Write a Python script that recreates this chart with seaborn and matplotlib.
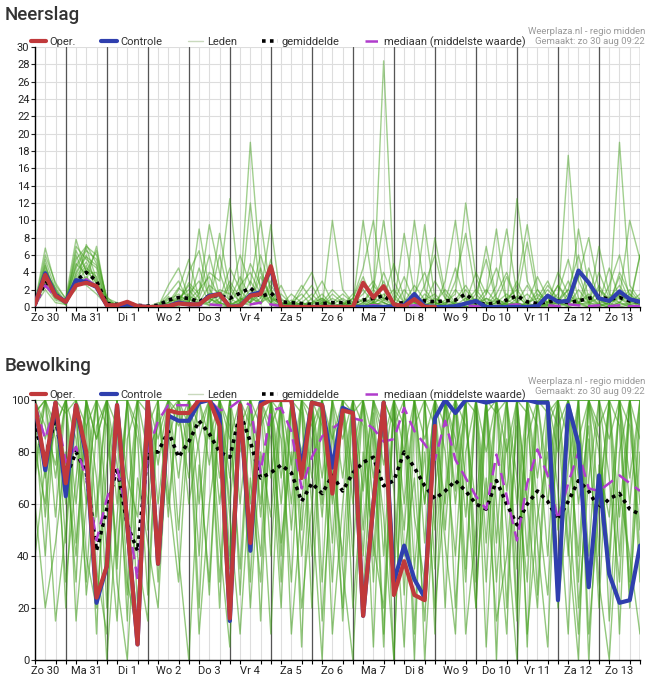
import numpy as np
import pandas as pd
import matplotlib
matplotlib.use("Agg")
import matplotlib.pyplot as plt
from matplotlib.lines import Line2D
import seaborn as sns

# tijdstappen: elke 6 uur vanaf zo 30 06:00 (uur 0) tot ma 14 00:00 (uur 354)
hours = np.arange(0, 355, 6)
day_labels = ["Zo 30", "Ma 31", "Di 1", "Wo 2", "Do 3", "Vr 4", "Za 5", "Zo 6",
              "Ma 7", "Di 8", "Wo 9", "Do 10", "Vr 11", "Za 12", "Zo 13"]

# ---------------- Neerslag (mm) ----------------
rain_oper = [0.3, 3.7, 1.3, 0.6, 2.5, 2.8, 2.4, 0.2, 0.2, 0.6,
             0.1, 0.0, 0.0, 0.1, 0.4, 0.3, 0.3, 1.2, 1.5, 0.0,
             0.1, 1.3, 1.5, 4.7, 0.0, 0.0, 0.0, 0.0, 0.0, 0.0,
             0.0, 0.0, 2.8, 1.1, 2.4, 0.3, 0.1, 0.9, 0.0, 0.0]
rain_ctrl = [0.3, 3.9, 1.4, 0.6, 3.1, 2.9, 2.3, 0.2, 0.1, 0.3,
             0.1, 0.0, 0.0, 0.1, 0.5, 0.3, 0.3, 1.3, 1.5, 0.0,
             0.1, 1.4, 1.7, 4.5, 0.0, 0.0, 0.0, 0.0, 0.0, 0.0,
             0.0, 0.0, 0.0, 0.0, 0.0, 0.1, 0.2, 1.5, 0.1, 0.0,
             0.0, 0.1, 0.4, 0.7, 0.0, 0.0, 0.0, 0.0, 0.0, 0.1,
             1.3, 0.6, 0.7, 4.2, 2.8, 1.0, 0.7, 1.8, 0.9, 0.6]
rain_mean = [0.3, 2.8, 1.4, 0.6, 3.0, 4.0, 3.0, 0.4, 0.3, 0.4,
             0.2, 0.1, 0.2, 0.8, 1.1, 1.0, 0.6, 1.3, 1.3, 1.0,
             1.6, 2.2, 1.2, 1.6, 0.6, 0.5, 0.4, 0.3, 0.4, 0.5,
             0.5, 0.6, 0.8, 1.0, 1.3, 0.4, 0.5, 0.9, 0.7, 0.6,
             0.7, 0.8, 1.5, 0.5, 0.3, 0.5, 0.8, 1.3, 0.6, 0.4,
             0.6, 0.7, 0.5, 0.7, 1.0, 1.2, 0.9, 1.1, 0.7, 0.6]
rain_median = [0.2, 2.5, 1.2, 0.5, 2.6, 3.2, 2.4, 0.2, 0.1, 0.1,
               0.0, 0.0, 0.0, 0.2, 0.6, 0.4, 0.2, 0.3, 0.2, 0.1,
               0.2, 0.3, 0.5, 0.3, 0.1, 0.0, 0.1, 0.0, 0.1, 0.1,
               0.0, 0.1, 0.1, 0.2, 0.1, 0.0, 0.1, 0.2, 0.1, 0.1,
               0.0, 0.1, 0.2, 0.1, 0.0, 0.1, 0.2, 0.3, 0.1, 0.1,
               0.2, 0.1, 0.3, 0.2, 0.1, 0.2, 0.1, 0.2, 0.1, 0.1]
rain_members = [
    [0.2, 4.5, 1.8, 0.5, 3.5, 5.2, 3.0, 0.3, 0.2, 0.1,
     0.0, 0.0, 0.0, 0.5, 1.2, 0.8, 2.0, 3.5, 1.0, 0.2,
     2.5, 4.0, 1.5, 9.5, 0.5, 0.2, 0.0, 0.3, 1.0, 0.2,
     0.0, 0.5, 1.5, 3.0, 0.8, 0.2, 0.0, 0.1, 2.5, 6.0,
     1.0, 0.3, 0.0, 0.0, 1.5, 4.5, 0.8, 0.2, 0.0, 0.5,
     2.0, 0.6, 0.1, 3.5, 8.0, 2.0, 0.5, 1.2, 0.3, 0.1],
    [0.5, 6.8, 2.5, 1.0, 7.8, 4.0, 6.5, 0.8, 0.0, 0.3,
     0.1, 0.0, 0.2, 1.5, 3.0, 0.5, 0.2, 1.0, 8.5, 2.0,
     0.5, 1.2, 0.3, 2.0, 0.0, 0.5, 2.5, 0.8, 0.0, 0.0,
     0.2, 1.0, 4.5, 10.0, 2.0, 0.5, 0.0, 0.0, 0.8, 1.5,
     0.2, 3.0, 8.5, 1.5, 0.2, 0.0, 0.5, 2.5, 9.5, 2.0,
     0.3, 0.0, 1.0, 4.0, 0.5, 0.1, 2.5, 6.0, 1.0, 0.2],
    [0.3, 3.0, 1.2, 0.8, 2.0, 7.2, 5.0, 1.0, 0.5, 0.0,
     0.0, 0.2, 0.0, 0.0, 0.8, 2.5, 1.0, 4.0, 3.0, 12.5,
     1.5, 19.0, 4.0, 1.0, 0.3, 0.0, 0.5, 1.5, 0.2, 0.0,
     0.5, 0.0, 0.3, 1.2, 28.4, 3.0, 0.5, 0.0, 1.5, 0.5,
     0.0, 0.8, 2.5, 0.5, 7.0, 1.0, 0.2, 0.0, 0.5, 3.5,
     1.0, 0.2, 17.5, 3.0, 0.5, 1.0, 0.2, 4.0, 1.5, 0.5],
    [0.1, 5.5, 2.0, 0.3, 4.0, 6.0, 2.5, 0.2, 0.0, 0.5,
     0.2, 0.0, 0.0, 2.5, 4.5, 1.0, 0.3, 0.5, 2.0, 1.5,
     6.0, 2.5, 10.0, 1.5, 0.0, 0.8, 0.2, 0.0, 0.5, 2.0,
     0.8, 0.0, 1.0, 0.5, 2.5, 0.2, 8.5, 1.5, 0.3, 0.0,
     0.5, 1.5, 12.0, 3.5, 0.5, 0.0, 1.0, 2.0, 0.3, 0.0,
     0.5, 2.5, 1.0, 0.2, 4.5, 1.0, 0.0, 19.0, 2.5, 0.8],
    [0.4, 2.5, 0.8, 0.4, 6.0, 3.0, 7.0, 0.5, 0.2, 0.0,
     0.0, 0.0, 0.5, 0.2, 0.0, 4.0, 6.5, 1.0, 0.2, 0.0,
     0.5, 3.0, 1.0, 4.0, 0.5, 0.0, 0.0, 1.0, 3.0, 0.5,
     0.0, 0.3, 10.0, 2.0, 0.5, 0.0, 0.2, 1.5, 4.0, 0.5,
     0.2, 0.0, 0.5, 1.0, 0.3, 2.5, 9.0, 1.5, 0.0, 0.3,
     1.5, 0.5, 2.0, 6.0, 1.0, 0.2, 0.5, 1.0, 10.0, 5.5],
    [0.2, 3.5, 1.5, 0.2, 2.5, 4.5, 3.5, 0.4, 0.1, 0.2,
     0.0, 0.0, 0.0, 0.8, 1.5, 0.5, 9.0, 2.0, 0.5, 0.0,
     1.0, 0.5, 2.0, 0.5, 0.2, 1.5, 0.5, 0.0, 0.0, 10.0,
     2.0, 0.5, 0.0, 0.5, 1.0, 5.0, 1.0, 0.0, 0.2, 8.0,
     1.5, 0.3, 0.0, 0.5, 2.0, 0.5, 0.0, 12.5, 3.0, 0.5,
     0.2, 0.0, 1.5, 0.5, 0.2, 7.0, 1.5, 0.5, 0.0, 0.2],
    [0.6, 4.0, 2.2, 0.6, 5.0, 3.8, 4.0, 0.6, 0.3, 0.0,
     0.1, 0.2, 0.0, 0.0, 0.5, 0.2, 1.5, 9.5, 4.0, 0.5,
     0.0, 12.0, 1.5, 0.5, 2.5, 0.0, 0.2, 0.5, 1.5, 0.2,
     0.0, 0.0, 0.5, 2.0, 10.0, 1.5, 0.0, 0.5, 0.3, 0.0,
     3.0, 10.0, 1.0, 0.2, 0.0, 0.5, 3.5, 0.5, 0.0, 0.5,
     2.5, 1.0, 0.3, 9.0, 2.5, 0.5, 4.5, 1.0, 0.2, 6.0],
    [0.3, 5.0, 1.0, 0.5, 7.0, 5.5, 4.5, 0.3, 0.0, 0.0,
     0.3, 0.0, 0.2, 0.5, 1.0, 2.0, 0.5, 0.2, 1.0, 4.5,
     2.0, 0.5, 4.5, 0.8, 0.0, 0.0, 2.0, 4.0, 0.5, 0.0,
     0.2, 1.5, 0.5, 0.0, 0.8, 2.0, 0.5, 10.0, 2.0, 0.5,
     0.0, 0.5, 0.2, 1.5, 5.5, 0.5, 0.0, 1.0, 7.5, 1.0,
     0.5, 4.0, 1.5, 0.3, 0.0, 2.5, 0.5, 1.5, 0.8, 0.0],
    [0.1, 2.0, 0.5, 0.3, 3.0, 2.5, 1.5, 0.2, 0.0, 0.0,
     0.0, 0.0, 0.0, 0.3, 0.8, 0.3, 0.2, 1.0, 0.5, 0.2,
     0.8, 1.5, 0.5, 1.2, 0.3, 0.0, 0.2, 0.0, 0.5, 0.3,
     0.0, 0.2, 0.8, 0.3, 0.5, 0.0, 0.3, 0.5, 0.0, 1.0,
     0.5, 0.0, 0.3, 0.8, 0.2, 0.0, 0.5, 1.2, 0.3, 0.0,
     0.3, 0.5, 0.0, 0.5, 1.5, 0.3, 0.0, 0.5, 0.2, 0.0],
    [0.5, 4.8, 1.5, 0.7, 4.5, 6.5, 5.5, 1.2, 0.0, 0.1,
     0.0, 0.0, 0.0, 1.0, 0.5, 1.5, 3.0, 0.5, 6.0, 1.0,
     0.3, 0.5, 1.5, 0.2, 0.0, 0.5, 1.5, 0.2, 0.0, 0.0,
     0.5, 0.0, 0.0, 1.0, 0.5, 0.0, 2.0, 0.5, 9.5, 1.0,
     0.3, 0.0, 0.5, 4.0, 1.5, 9.0, 0.5, 0.0, 0.2, 1.5,
     0.5, 0.0, 0.5, 1.0, 0.3, 0.0, 0.5, 3.5, 0.5, 6.0],
    [0.2, 3.2, 1.6, 0.4, 3.2, 4.8, 2.0, 0.5, 0.2, 0.0,
     0.2, 0.0, 0.0, 0.0, 2.0, 5.5, 1.0, 0.2, 0.5, 0.0,
     0.2, 1.0, 6.0, 2.0, 0.5, 0.2, 0.0, 0.5, 0.2, 1.0,
     0.3, 0.0, 0.2, 0.5, 0.0, 0.5, 0.2, 0.0, 0.5, 0.2,
     0.0, 0.2, 1.0, 0.5, 0.0, 0.5, 0.2, 0.5, 1.5, 0.3,
     0.0, 0.5, 3.0, 0.5, 0.0, 0.2, 0.5, 0.0, 0.3, 0.5],
    [0.4, 6.0, 2.8, 0.9, 5.5, 7.0, 6.0, 0.8, 0.3, 0.0,
     0.0, 0.1, 0.0, 0.2, 0.5, 1.0, 0.5, 2.5, 1.5, 0.2,
     0.5, 2.0, 0.5, 3.0, 1.0, 0.0, 0.5, 0.2, 0.0, 0.5,
     1.5, 0.5, 2.0, 0.5, 4.0, 1.0, 0.2, 0.0, 1.0, 0.5,
     0.2, 2.0, 0.5, 0.0, 1.0, 0.5, 1.5, 0.5, 0.2, 2.0,
     0.5, 1.5, 5.5, 1.0, 0.5, 2.0, 1.0, 0.5, 2.0, 0.5],
    [0.3, 3.8, 1.4, 0.6, 2.8, 3.5, 2.2, 0.4, 0.1, 0.0,
     0.0, 0.0, 0.1, 0.5, 2.2, 1.2, 0.8, 0.5, 1.8, 0.8,
     3.5, 1.0, 0.5, 2.5, 0.8, 0.2, 0.5, 0.0, 0.2, 1.5,
     0.5, 0.0, 0.5, 2.5, 1.0, 0.3, 0.0, 0.8, 0.5, 3.0,
     1.0, 0.2, 0.5, 2.0, 0.5, 0.0, 0.3, 0.5, 2.5, 0.5,
     0.2, 0.8, 2.0, 0.5, 1.2, 0.3, 0.0, 1.5, 0.5, 1.0],
    [0.2, 4.2, 2.0, 0.4, 6.5, 4.2, 2.8, 0.5, 0.2, 0.0,
     0.1, 0.0, 0.0, 0.2, 0.5, 2.8, 1.5, 6.0, 1.2, 0.3,
     0.8, 5.0, 2.5, 0.5, 1.5, 0.3, 0.0, 0.5, 1.0, 0.2,
     0.0, 0.5, 0.0, 0.3, 1.5, 0.5, 3.5, 0.5, 0.0, 0.2,
     0.8, 4.5, 0.5, 0.2, 0.0, 1.0, 0.3, 0.0, 0.5, 1.0,
     3.0, 0.5, 0.2, 2.0, 0.5, 0.3, 1.0, 2.5, 0.5, 0.3],
    [0.4, 2.8, 1.0, 0.5, 4.8, 6.8, 3.2, 0.3, 0.0, 0.2,
     0.0, 0.0, 0.2, 0.0, 1.0, 0.5, 4.5, 1.0, 0.3, 2.5,
     0.5, 0.2, 1.0, 5.5, 0.5, 0.0, 1.0, 2.5, 0.3, 0.0,
     0.2, 1.0, 3.5, 0.5, 0.2, 0.0, 0.5, 2.5, 0.8, 0.2,
     0.0, 0.5, 2.0, 0.5, 0.2, 1.5, 4.0, 0.5, 0.0, 0.2,
     0.5, 2.5, 0.5, 0.2, 3.0, 0.8, 0.2, 0.5, 1.5, 0.2],
    [0.1, 3.4, 1.2, 0.3, 3.8, 5.8, 4.8, 0.6, 0.3, 0.1,
     0.0, 0.1, 0.0, 1.2, 0.3, 0.8, 0.5, 1.5, 0.5, 3.0,
     1.0, 0.5, 3.5, 1.0, 0.3, 0.5, 0.2, 0.0, 0.8, 0.3,
     1.0, 0.2, 0.0, 0.5, 3.0, 0.5, 0.2, 0.0, 0.3, 0.5,
     2.0, 0.5, 0.0, 0.3, 1.0, 0.2, 0.5, 3.0, 0.5, 0.0,
     0.2, 0.5, 1.0, 0.3, 0.5, 4.0, 1.0, 0.2, 0.5, 1.5],
]

# ---------------- Bewolking (%) ----------------
cloud_oper = [98, 75, 99, 68, 98, 80, 24, 36, 98, 52,
              6, 100, 37, 96, 95, 95, 100, 100, 90, 16,
              98, 45, 98, 100, 100, 100, 70, 99, 98, 64,
              96, 95, 17, 60, 99, 25, 38, 25, 23, 90]
cloud_ctrl = [98, 73, 99, 63, 98, 78, 22, 36, 98, 52,
              6, 100, 37, 94, 92, 92, 99, 100, 94, 15,
              98, 42, 99, 100, 100, 100, 74, 99, 98, 74,
              97, 95, 17, 60, 99, 30, 44, 31, 24, 93,
              100, 95, 100, 100, 99, 100, 100, 100, 100, 99,
              99, 23, 98, 83, 28, 71, 33, 22, 23, 44]
cloud_mean = [89, 78, 93, 70, 80, 72, 42, 58, 74, 52,
              42, 80, 80, 88, 78, 84, 92, 87, 80, 78,
              95, 84, 70, 72, 75, 72, 61, 68, 64, 71,
              65, 72, 76, 78, 67, 69, 80, 74, 67, 62,
              65, 69, 65, 60, 58, 69, 60, 52, 60, 65,
              61, 54, 61, 69, 65, 58, 62, 64, 58, 56]
cloud_median = [98, 85, 98, 76, 82, 70, 46, 62, 74, 56,
                31, 80, 92, 98, 98, 98, 100, 100, 96, 97,
                100, 98, 72, 96, 97, 88, 66, 78, 86, 89,
                92, 93, 92, 89, 84, 85, 97, 88, 83, 77,
                92, 77, 70, 63, 58, 79, 63, 46, 68, 81,
                71, 54, 68, 80, 66, 65, 68, 71, 68, 65]
cloud_members = [
    [100, 85, 100, 60, 95, 40, 20, 75, 100, 30,
     10, 90, 100, 100, 95, 70, 100, 100, 45, 5,
     100, 60, 100, 100, 85, 30, 100, 95, 55, 100,
     15, 80, 100, 40, 100, 65, 5, 90, 100, 35,
     100, 100, 70, 20, 95, 100, 50, 0, 85, 100,
     100, 30, 75, 100, 10, 60, 100, 90, 25, 80],
    [95, 100, 70, 100, 45, 90, 100, 60, 15, 85,
     100, 50, 95, 60, 100, 100, 80, 25, 100, 90,
     35, 100, 75, 10, 100, 100, 40, 85, 100, 60,
     100, 20, 70, 100, 90, 0, 100, 55, 30, 100,
     80, 40, 100, 95, 5, 75, 100, 100, 60, 20,
     90, 100, 45, 0, 100, 85, 35, 100, 70, 100],
    [80, 60, 100, 95, 100, 100, 35, 10, 100, 70,
     55, 100, 85, 100, 100, 100, 90, 100, 100, 40,
     90, 100, 15, 100, 95, 60, 100, 20, 100, 85,
     100, 100, 50, 95, 10, 100, 80, 100, 0, 65,
     100, 85, 30, 100, 100, 60, 10, 100, 95, 45,
     5, 100, 100, 60, 90, 20, 100, 55, 100, 30],
    [100, 100, 85, 30, 70, 100, 55, 100, 90, 15,
     100, 100, 60, 95, 100, 80, 100, 100, 20, 100,
     100, 45, 100, 100, 60, 100, 80, 100, 30, 100,
     70, 100, 90, 5, 100, 40, 100, 100, 60, 100,
     20, 100, 90, 60, 100, 0, 100, 70, 30, 100,
     100, 65, 10, 100, 100, 80, 40, 100, 90, 50],
    [90, 40, 100, 100, 100, 75, 100, 90, 40, 100,
     85, 25, 100, 100, 90, 100, 100, 75, 100, 100,
     60, 100, 100, 85, 20, 100, 100, 70, 100, 45,
     100, 95, 100, 70, 100, 100, 25, 100, 85, 100,
     100, 60, 100, 100, 80, 100, 100, 35, 100, 100,
     70, 100, 100, 85, 100, 40, 100, 100, 60, 100],
    [70, 100, 55, 100, 85, 30, 90, 100, 100, 60,
     100, 100, 30, 85, 100, 100, 40, 100, 100, 70,
     100, 90, 100, 40, 100, 75, 100, 100, 90, 30,
     100, 60, 100, 100, 85, 100, 100, 10, 100, 90,
     60, 100, 100, 20, 100, 95, 100, 100, 5, 100,
     100, 90, 100, 20, 70, 100, 100, 10, 100, 85],
    [60, 20, 45, 80, 30, 100, 70, 0, 55, 100,
     40, 15, 100, 65, 30, 95, 10, 60, 90, 35,
     100, 20, 80, 55, 100, 10, 60, 100, 15, 75,
     40, 100, 25, 90, 55, 0, 100, 35, 80, 20,
     65, 100, 10, 50, 100, 30, 85, 15, 100, 60,
     25, 90, 40, 100, 0, 75, 55, 100, 20, 95],
    [100, 70, 90, 100, 15, 60, 100, 40, 100, 100,
     20, 100, 75, 100, 50, 100, 100, 100, 60, 100,
     25, 100, 60, 100, 40, 100, 5, 100, 70, 100,
     100, 40, 100, 60, 100, 30, 100, 100, 45, 100,
     100, 20, 80, 100, 60, 100, 20, 100, 100, 70,
     100, 30, 100, 70, 100, 100, 15, 80, 100, 40],
    [85, 100, 100, 45, 100, 90, 10, 100, 60, 100,
     90, 60, 100, 100, 100, 60, 85, 100, 30, 100,
     100, 80, 40, 100, 100, 50, 100, 90, 100, 10,
     60, 100, 100, 30, 100, 90, 50, 100, 100, 10,
     100, 100, 55, 100, 30, 100, 65, 100, 40, 100,
     60, 100, 85, 40, 100, 100, 70, 30, 100, 100],
    [100, 90, 75, 100, 60, 100, 100, 20, 100, 45,
     100, 80, 90, 100, 70, 100, 60, 100, 100, 85,
     100, 100, 90, 100, 70, 100, 95, 40, 100, 100,
     85, 100, 40, 100, 75, 100, 60, 100, 100, 50,
     100, 80, 100, 40, 100, 100, 80, 100, 60, 100,
     100, 50, 100, 100, 40, 100, 85, 100, 100, 60],
    [40, 75, 15, 50, 100, 25, 60, 100, 30, 0,
     70, 45, 20, 90, 40, 0, 75, 30, 100, 55,
     10, 70, 30, 95, 45, 80, 20, 60, 0, 90,
     35, 0, 80, 45, 20, 100, 40, 70, 15, 85,
     45, 10, 100, 30, 70, 15, 40, 90, 10, 55,
     80, 20, 60, 10, 85, 30, 0, 65, 40, 10],
    [95, 100, 90, 100, 100, 100, 85, 100, 100, 100,
     100, 100, 100, 100, 100, 90, 100, 100, 100, 100,
     100, 100, 100, 90, 100, 100, 100, 100, 60, 100,
     100, 100, 100, 100, 100, 90, 100, 100, 100, 100,
     90, 100, 100, 100, 100, 100, 100, 100, 100, 100,
     95, 100, 100, 100, 100, 100, 100, 100, 100, 100],
    [100, 55, 100, 75, 40, 100, 85, 100, 35, 100,
     100, 95, 45, 100, 100, 100, 20, 100, 70, 100,
     80, 100, 55, 100, 30, 100, 100, 60, 100, 70,
     20, 100, 65, 100, 40, 100, 90, 0, 100, 100,
     50, 100, 35, 100, 100, 45, 100, 60, 100, 25,
     100, 80, 100, 30, 100, 60, 100, 40, 100, 100],
    [75, 100, 100, 20, 100, 60, 100, 100, 75, 25,
     100, 100, 100, 55, 100, 100, 100, 85, 100, 60,
     100, 30, 100, 70, 100, 100, 50, 100, 100, 100,
     100, 70, 100, 85, 5, 100, 100, 100, 60, 100,
     100, 65, 100, 100, 45, 100, 100, 20, 100, 90,
     40, 100, 60, 100, 100, 90, 100, 100, 30, 100],
]

RED = "#c0393b"
BLUE = "#2f3fae"
GREEN = "#45a11f"
PURPLE = "#b03ccc"

sns.set_theme(style="white")
plt.rcParams['font.family'] = ['Roboto', 'DejaVu Sans']


def members_frame(members):
    rows = []
    for k, vals in enumerate(members):
        for h, v in zip(hours, vals):
            rows.append((k, h, v))
    return pd.DataFrame(rows, columns=["lid", "uur", "waarde"])


def draw_panel(ax, members, oper, ctrl, mean, median, ymax, ystep, alpha):
    ax.set_xlim(0, 354)
    ax.set_ylim(0, ymax)
    # lichte raster
    for h in hours:
        ax.axvline(h, color="#dddddd", lw=0.8, zorder=0)
    for y in np.arange(ystep, ymax + 0.1, ystep):
        ax.axhline(y, color="#dddddd", lw=0.8, zorder=0)
    # middernacht lijnen
    for h in np.arange(18, 355, 24):
        ax.axvline(h, color="#555555", lw=0.9, zorder=1)

    df = members_frame(members)
    sns.lineplot(data=df, x="uur", y="waarde", units="lid", estimator=None,
                 color=GREEN, alpha=alpha, lw=1.0, ax=ax, legend=False, zorder=2)
    sns.lineplot(x=hours[:len(mean)], y=mean, color="black", lw=2.6,
                 linestyle=(0, (1, 1.2)), ax=ax, zorder=4)
    sns.lineplot(x=hours[:len(median)], y=median, color=PURPLE, lw=1.8,
                 linestyle=(0, (5, 3)), ax=ax, zorder=4)
    sns.lineplot(x=hours[:len(ctrl)], y=ctrl, color=BLUE, lw=3, ax=ax, zorder=5)
    sns.lineplot(x=hours[:len(oper)], y=oper, color=RED, lw=3, ax=ax, zorder=6)

    ax.set_xticks(np.arange(6, 355, 24))
    ax.set_xticklabels(day_labels)
    ax.set_xticks(hours, minor=True)
    ax.tick_params(axis="x", which="major", length=0, labelsize=8, pad=4, colors="#222222")
    ax.tick_params(axis="x", which="minor", length=3, width=0.8, color="black", bottom=True)
    ax.set_yticks(np.arange(0, ymax + 0.1, ystep))
    ax.tick_params(axis="y", length=3, width=0.8, labelsize=8, pad=1, colors="#222222", left=True)
    ax.set_xlabel("")
    ax.set_ylabel("")
    for s in ["top", "right"]:
        ax.spines[s].set_visible(False)
    for s in ["left", "bottom"]:
        ax.spines[s].set_color("black")
        ax.spines[s].set_linewidth(1.0)

    handles = [Line2D([], [], color=RED, lw=3),
               Line2D([], [], color=BLUE, lw=3),
               Line2D([], [], color="#c9d9bd", lw=1.0),
               Line2D([], [], color="black", lw=2.6, linestyle=(0, (1, 1.2))),
               Line2D([], [], color=PURPLE, lw=1.8, linestyle=(0, (5, 3)))]
    labels = ["Oper.", "Controle", "Leden", "gemiddelde", "mediaan (middelste waarde)"]
    leg = ax.legend(handles, labels, loc="lower left", bbox_to_anchor=(-0.009, 0.993), ncol=5,
                    frameon=False, fontsize=8.0, handlelength=1.4, handletextpad=0.3,
                    columnspacing=2.3, borderaxespad=0, borderpad=0.1)
    for t in leg.get_texts():
        t.set_color("#333333")


fig = plt.figure(figsize=(6.48, 6.84), dpi=100)
ax1 = fig.add_axes([35 / 648, 1 - 307 / 684, 605 / 648, 260 / 684])
ax2 = fig.add_axes([35 / 648, 1 - 660 / 684, 605 / 648, 260 / 684])

draw_panel(ax1, rain_members, rain_oper, rain_ctrl, rain_mean, rain_median, 30, 2, 0.5)
draw_panel(ax2, cloud_members, cloud_oper, cloud_ctrl, cloud_mean, cloud_median, 100, 20, 0.58)

for title, ytop in [("Neerslag", 15), ("Bewolking", 366)]:
    fig.text(5 / 648, 1 - ytop / 684, title, fontsize=13.5, fontweight="medium",
             color="#333333", va="center", ha="left")
for ytop in [31, 382]:
    fig.text(645 / 648, 1 - ytop / 684, "Weerplaza.nl - regio midden", fontsize=6.8,
             color="#999999", ha="right", va="center")
    fig.text(645 / 648, 1 - (ytop + 10) / 684, "Gemaakt: zo 30 aug 09:22", fontsize=6.8,
             color="#999999", ha="right", va="center")

fig.savefig("out.png", dpi=100)
